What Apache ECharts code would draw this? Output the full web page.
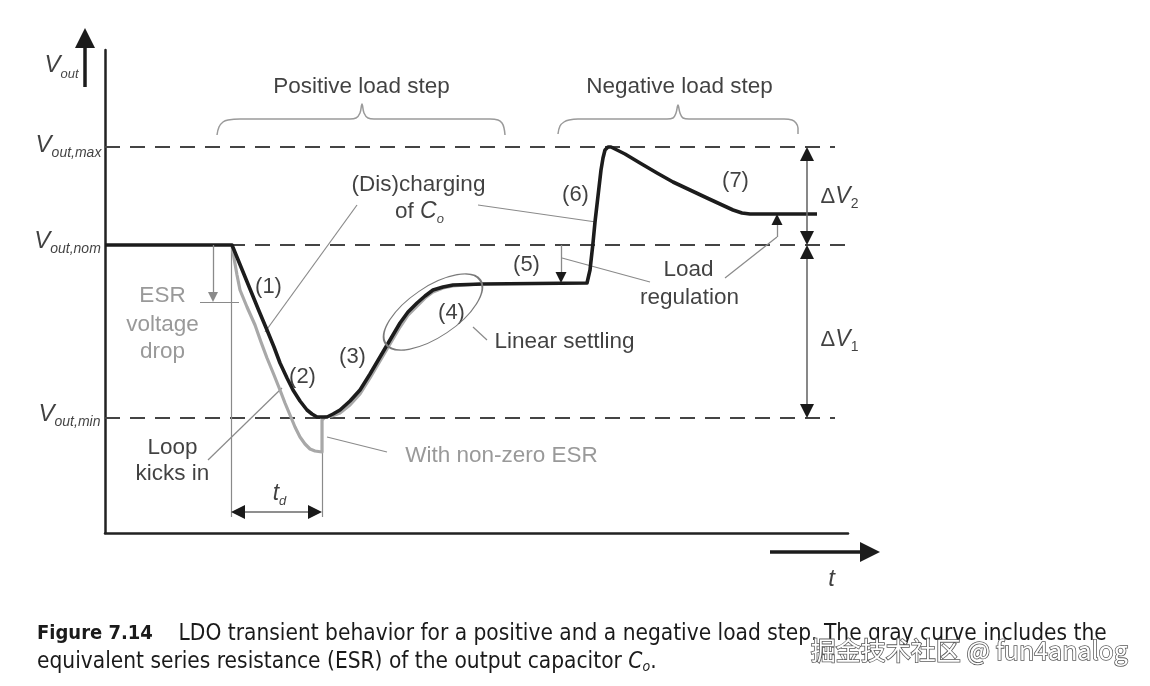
<!DOCTYPE html>
<html><head><meta charset="utf-8">
<script src="https://cdn.jsdelivr.net/npm/echarts@6/dist/echarts.min.js"></script>
<style>html,body{margin:0;padding:0;background:#fff}#c{width:1150px;height:686px}</style>
</head><body><div id="c"></div>
<script>
// ---- data (time t, voltage v in drawing units) ----
const tMax = 743, vTop = 483;
const vMax = 386, vNom = 288, vMin = 115;
const levelEnds = [730, 740, 730];
const blackCurve = [[0,288],[127,288],[136,266],[145,244],[154,222],[162,203],[169,186],[175,170],[182,155],[188,143],[195,132],[202,123],[207,119],[212,116],[222,116],[228,119],[235,123],[245,132],[255,143],[265,159],[275,176],[285,193],[295,210],[303,221],[312,230],[320,237],[328,243],[338,246],[348,248],[378,249],[482,250],[485,263],[488,290],[490,311],[493,337],[496,363],[498,375],[500,383],[503,386],[506,386],[520,379],[535,370],[552,360],[568,351],[585,343],[602,335],[615,329],[628,323],[637,320],[645,319],[712,319]];
const grayCurve = [[127,288],[129,275],[132,258],[135,243],[142,226],[150,208],[156,191],[162,175],[169,158],[175,143],[180,130],[185,118],[190,106],[195,96],[200,89],[205,84],[210,82],[217,81],[217,113],[220,116],[227,117],[235,120],[245,128],[255,139],[265,155],[275,172],[285,189],[295,206],[303,218],[312,227],[320,235],[328,241],[338,245],[348,247],[375,249]];
const bracePos = [[112,398],[114,406],[118,411],[123,413],[135,414],[245,414],[251,415],[255,420],[257,429],[259,420],[263,415],[269,414],[385,414],[393,413],[397,410],[399,405],[400,398]];
const braceNeg = [[453,399],[455,407],[459,411],[464,413],[473,414],[562,414],[568,415],[571,420],[573,428],[575,420],[578,415],[584,414],[679,414],[687,413],[691,410],[693,405],[693,399]];
const leaderLines = [[[252,328],[160,201]],[[373,328],[491,311]],[[103,73],[177,145]],[[222,96],[282,81]],[[368,206],[382,193]],[[457,275],[545,251]],[[672,296],[620,255]],[[95,231],[134,231]]];
const tdGuides = [[[126,288],[126,16]],[[217,115],[217,16]]];
const esrArrow = [[108,288],[108,231]];
const loadArrows = [[[456,288],[456,250]],[[672,296],[672,319]]];
const doubleArrows = [[[126,21],[217,21]],[[702,386],[702,288]],[[702,288],[702,115]]];
const axisArrows = [[[-20,446],[-20,505]],[[665,-19],[775,-19]]];
const ellipse = {c:[328,221], a:57, b:25, angle:34};
const stepLabels = [['(1)',164,246],['(2)',198,156],['(3)',248,176],['(4)',347,220],['(5)',422,268],['(6)',471,338],['(7)',631,352]];
const texts = [
  ['{V|V}{sub|out,max}',-36,387],
  ['{V|V}{sub|out,nom}',-37,291],
  ['{V|V}{sub|out,min}',-35,118],
  ['{Va|V}{suba|out}',-43,467],
  ['{Vt|t}',727,-47],
  ['{Vs|t}{ss|d}',175,39],
  ['{n|Positive load step}',257,446],
  ['{n|Negative load step}',575,446],
  ['{n|(Dis)charging}',314,348],
  ['{nt|of }{ci|C}{cs|o}',315,321],
  ['{g|ESR}',58,237],
  ['{g|voltage}',58,208],
  ['{g|drop}',58,181],
  ['{n|Loop}',68,85],
  ['{n|kicks in}',68,59],
  ['{g|With non-zero ESR}',397,77],
  ['{n|Linear settling}',460,191],
  ['{n|Load}',584,263],
  ['{n|regulation}',585,235],
  ['{dn|Δ}{ci|V}{ds|2}',735,336],
  ['{dn|Δ}{ci|V}{ds|1}',735,193]
];

const F = '"Liberation Sans", Arial, Helvetica, sans-serif';
const INK = '#111111';
const nb = {textBorderWidth:0, textShadowBlur:0};
const rich = {
  n:{fontFamily:F,fontSize:22.5,color:INK,...nb},
  k:{fontFamily:F,fontSize:22,color:INK,...nb},
  g:{fontFamily:F,fontSize:22.5,color:'#808080',...nb},
  V:{fontFamily:F,fontSize:24,fontStyle:'italic',color:INK,lineHeight:24,verticalAlign:'top',...nb},
  sub:{fontFamily:F,fontSize:14,fontStyle:'italic',color:INK,lineHeight:14,verticalAlign:'top',padding:[13,0,0,0],...nb},
  Va:{fontFamily:F,fontSize:24,fontStyle:'italic',color:INK,lineHeight:24,verticalAlign:'top',...nb},
  suba:{fontFamily:F,fontSize:13,fontStyle:'italic',color:INK,lineHeight:13,verticalAlign:'top',padding:[14,0,0,0],...nb},
  Vt:{fontFamily:F,fontSize:24,fontStyle:'italic',color:INK,...nb},
  Vs:{fontFamily:F,fontSize:23,fontStyle:'italic',color:INK,lineHeight:23,verticalAlign:'top',...nb},
  ss:{fontFamily:F,fontSize:13,fontStyle:'italic',color:INK,lineHeight:13,verticalAlign:'top',padding:[13,0,0,0],...nb},
  nt:{fontFamily:F,fontSize:22.5,color:INK,lineHeight:22,verticalAlign:'top',...nb},
  ci:{fontFamily:F,fontSize:23,fontStyle:'italic',color:INK,lineHeight:22,verticalAlign:'top',...nb},
  cs:{fontFamily:F,fontSize:13,fontStyle:'italic',color:INK,lineHeight:13,verticalAlign:'top',padding:[12,0,0,0],...nb},
  dn:{fontFamily:F,fontSize:22,color:INK,lineHeight:22,verticalAlign:'top',...nb},
  ds:{fontFamily:F,fontSize:14,color:INK,lineHeight:14,verticalAlign:'top',padding:[12,0,0,0],...nb}
};

// geometry helpers for arrow shafts / heads (heads are centred on their anchor by the library)
function unit(a,b){const dx=b[0]-a[0],dy=b[1]-a[1],L=Math.hypot(dx,dy);return [dx/L,dy/L];}
function shaft(seg, head, both){
  const [a,b]=seg, u=unit(a,b), h=head/2;
  return {coords:[both?[a[0]+u[0]*h,a[1]+u[1]*h]:a, [b[0]-u[0]*h,b[1]-u[1]*h]]};
}
function headAt(from, tip, size){
  const u=unit(from,tip), h=size/2;
  return {coords:[[tip[0]-u[0]*(h+2),tip[1]-u[1]*(h+2)],[tip[0]-u[0]*h,tip[1]-u[1]*h]]};
}
const blackHeads = [];
loadArrows.forEach(s=>blackHeads.push(headAt(s[0],s[1],11)));
const dblHeads = [];
doubleArrows.forEach(s=>{dblHeads.push(headAt(s[0],s[1],14)); dblHeads.push(headAt(s[1],s[0],14));});

const dashStyle = {color:'#444', width:2, type:[15,10]};
const levelSeries = [vMax, vNom, vMin].map((v,i)=>({
  type:'line', data:[[0,v],[levelEnds[i],v]], symbol:'none', silent:true, z:1,
  lineStyle:dashStyle, clip:false
}));
function linesSeries(data, color, width, sym, size, z){
  return {type:'lines', coordinateSystem:'cartesian2d', clip:false, silent:true, z:z||5,
    symbol:sym||['none','none'], symbolSize:size||1,
    lineStyle:{color:color, width:width, opacity:1, curveness:0}, data:data};
}

const option = {
  animation:false,
  backgroundColor:'#fff',
  grid:{left:105, right:302, top:50, bottom:153, containLabel:false},
  xAxis:{type:'value', min:0, max:tMax, axisLine:{show:true, lineStyle:{color:'#222', width:2.5}}, axisTick:{show:false}, axisLabel:{show:false}, splitLine:{show:false}},
  yAxis:{type:'value', min:0, max:vTop, axisLine:{show:true, lineStyle:{color:'#222', width:2.5}}, axisTick:{show:false}, axisLabel:{show:false}, splitLine:{show:false}},
  series:[
    ...levelSeries,
    {type:'line', data:bracePos, symbol:'none', smooth:0.4, silent:true, clip:false, lineStyle:{color:'#9a9a9a', width:1.5}},
    {type:'line', data:braceNeg, symbol:'none', smooth:0.4, silent:true, clip:false, lineStyle:{color:'#9a9a9a', width:1.5}},
    linesSeries(leaderLines.concat(tdGuides).map(c=>({coords:c})), '#8a8a8a', 1.2, null, null, 2),
    {type:'line', data:grayCurve, symbol:'none', silent:true, z:3, lineStyle:{color:'#a8a8a8', width:3.2, join:'round'}},
    {type:'line', data:blackCurve, symbol:'none', silent:true, z:4, lineStyle:{color:'#1c1c1c', width:3.6, join:'round'}},
    linesSeries([shaft(esrArrow,10,false)], '#8a8a8a', 1.3, ['none','triangle'], 10),
    linesSeries(loadArrows.map(s=>shaft(s,11,false)), '#8a8a8a', 1.3),
    linesSeries(blackHeads, '#1a1a1a', 1.3, ['none','triangle'], 11, 6),
    linesSeries(doubleArrows.map(s=>shaft(s,14,true)), '#6a6a6a', 1.6),
    linesSeries(dblHeads, '#1a1a1a', 1.6, ['none','triangle'], 14, 6),
    linesSeries(axisArrows.map(s=>shaft(s,20,false)), '#1c1c1c', 3.5, ['none','triangle'], 20),
    {type:'scatter', clip:false, silent:true, z:7, symbolSize:1, itemStyle:{color:'rgba(0,0,0,0)'},
      label:{show:true, position:[0,0], align:'center', verticalAlign:'middle', rich:rich, textBorderWidth:0, color:INK},
      data: stepLabels.map(s=>({value:[s[1],s[2]], label:{formatter:'{k|'+s[0]+'}'}}))
        .concat(texts.map(s=>({value:[s[1],s[2]], label:{formatter:s[0]}})))}
  ]
};

const chart = echarts.init(document.getElementById('c'), null, {renderer:'canvas'});
chart.setOption(option);
const ec = chart.convertToPixel({gridIndex:0}, ellipse.c);
const CF = '"Liberation Sans Narrow","DejaVu Sans Condensed",sans-serif';
chart.setOption({graphic:[
  {type:'circle', x:ec[0], y:ec[1], rotation:ellipse.angle*Math.PI/180, scaleY:ellipse.b/ellipse.a, silent:true, z:10,
   shape:{cx:0, cy:0, r:ellipse.a}, style:{fill:'none', stroke:'#7a7a7a', lineWidth:1.4, strokeNoScale:true}},
  {type:'text', left:37, top:620, silent:true,
   style:{text:'{b|Figure 7.14}    LDO transient behavior for a positive and a negative load step. The gray curve includes the\nequivalent series resistance (ESR) of the output capacitor {ci|C}{cs|o}.',
     fill:'#1a1a1a', fontSize:22.5, fontFamily:CF, lineHeight:28,
     rich:{
       b:{fontWeight:'bold', fontSize:20, fontFamily:CF, fill:'#1a1a1a', lineHeight:28},
       ci:{fontStyle:'italic', fontSize:22.5, fontFamily:CF, fill:'#1a1a1a', lineHeight:28},
       cs:{fontStyle:'italic', fontSize:14, fontFamily:CF, fill:'#1a1a1a', lineHeight:28, padding:[10,0,0,0]}
     }}},
  {type:'text', left:810, top:637, silent:true, z:20,
   style:{text:'掘金技术社区 @ fun4analog', fontSize:25, fontFamily:'"Noto Sans CJK SC", sans-serif', fill:'#ffffff', stroke:'#5a5a5a', lineWidth:1.6,
     shadowColor:'rgba(0,0,0,0.55)', shadowOffsetX:1.5, shadowOffsetY:2, shadowBlur:2}}
]});
</script>
</body></html>
